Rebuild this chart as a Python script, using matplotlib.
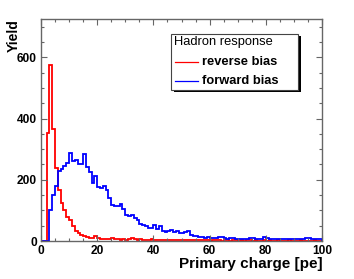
import numpy as np
import matplotlib
matplotlib.use("Agg")
import matplotlib.pyplot as plt
from matplotlib.patches import Rectangle
from matplotlib.ticker import MultipleLocator

plt.rcParams['font.family'] = ['Liberation Sans', 'DejaVu Sans']

# histogram bin edges (1 pe wide bins, 0..100 pe)
edges = np.arange(0, 101, 1)

# reverse bias (red) counts per bin
reverse_bias = [0, 0, 354, 576, 365, 237, 166, 123, 100, 80,
                67, 48, 34, 26, 20, 16, 14, 11, 10, 15,
                9, 8, 7, 6, 5, 9, 6, 5, 4, 5,
                4, 8, 9, 5, 4, 5, 3, 4, 3, 5,
                3, 3, 4, 3, 2, 3, 2, 3, 2, 2,
                3, 2, 2, 3, 2, 2, 2, 3, 2, 2,
                1, 2, 2, 2, 1, 2, 2, 1, 2, 2,
                1, 2, 1, 2, 2, 1, 2, 1, 1, 2,
                1, 2, 1, 1, 2, 1, 1, 1, 2, 1,
                1, 1, 2, 1, 1, 1, 1, 2, 1, 1]

# forward bias (blue) counts per bin
forward_bias = [0, 0, 0, 100, 151, 180, 228, 236, 246, 255,
                286, 260, 266, 253, 253, 285, 243, 224, 188, 213,
                177, 172, 180, 168, 141, 119, 113, 115, 120, 106,
                84, 82, 85, 76, 67, 56, 52, 49, 43, 43,
                51, 38, 48, 34, 31, 32, 37, 31, 34, 25,
                25, 29, 32, 20, 16, 16, 13, 13, 11, 12,
                9, 10, 9, 14, 13, 9, 8, 9, 10, 7,
                8, 6, 7, 8, 10, 10, 7, 6, 7, 12,
                11, 8, 7, 6, 7, 6, 7, 8, 6, 7,
                5, 7, 7, 6, 9, 9, 8, 6, 6, 7]

W, H = 354, 279
fig = plt.figure(figsize=(W / 100, H / 100), dpi=100)
ax = fig.add_axes([41 / W, 1 - 241 / H, (322 - 41) / W, (241 - 19) / H])

ax.stairs(reverse_bias, edges, color='#ff0000', lw=1.3)
ax.stairs(forward_bias, edges, color='#0000ff', lw=1.3)

ax.set_xlim(0, 100)
ax.set_ylim(0, 725)

ax.xaxis.set_major_locator(MultipleLocator(20))
ax.xaxis.set_minor_locator(MultipleLocator(5))
ax.yaxis.set_major_locator(MultipleLocator(200))
ax.yaxis.set_minor_locator(MultipleLocator(50))

frame_col = '#666666'
for s in ax.spines.values():
    s.set_color(frame_col)
    s.set_linewidth(1.0)
ax.tick_params(which='both', direction='in', top=True, right=True,
               color=frame_col, width=0.8)
ax.tick_params(which='major', length=4.5, labelsize=8.6, pad=3)
ax.tick_params(which='minor', length=2.3)
for lab in ax.get_xticklabels() + ax.get_yticklabels():
    lab.set_fontweight('bold')

# axis titles, ROOT style (aligned to the end of the axis)
fig.text(322.5 / W, 1 - 268 / H, 'Primary charge [pe]', ha='right', va='baseline',
         fontsize=11, fontweight='bold')
fig.text(6.5 / W, 1 - 19.5 / H, 'Yield', ha='right', va='top', rotation=90,
         rotation_mode='anchor', fontsize=10, fontweight='bold')

# legend box with shadow
def px(x, y):
    return x / W, 1 - y / H

x0, y0, x1, y1 = 171, 33.5, 298, 89.5
shadow = Rectangle(px(x0 + 3, y1 + 2.5), (x1 - x0) / W, (y1 - y0) / H,
                   transform=fig.transFigure, facecolor='black', edgecolor='none')
box = Rectangle(px(x0, y1), (x1 - x0) / W, (y1 - y0) / H,
                transform=fig.transFigure, facecolor='white', edgecolor='#444444', lw=0.8)
fig.patches.extend([shadow, box])

fig.text(*px(174.5, 42.5), 'Hadron response', ha='left', va='center', fontsize=9.3)
fig.add_artist(plt.Line2D([175 / W, 198 / W], [1 - 61.7 / H] * 2,
                          transform=fig.transFigure, color='#ff0000', lw=0.9))
fig.text(*px(202.5, 61.7), 'reverse bias', ha='left', va='center', fontsize=9.3,
         fontweight='bold')
fig.add_artist(plt.Line2D([175 / W, 198 / W], [1 - 80.7 / H] * 2,
                          transform=fig.transFigure, color='#0000ff', lw=0.9))
fig.text(*px(202.5, 80.7), 'forward bias', ha='left', va='center', fontsize=9.3,
         fontweight='bold')

fig.savefig('out.png', dpi=100)
